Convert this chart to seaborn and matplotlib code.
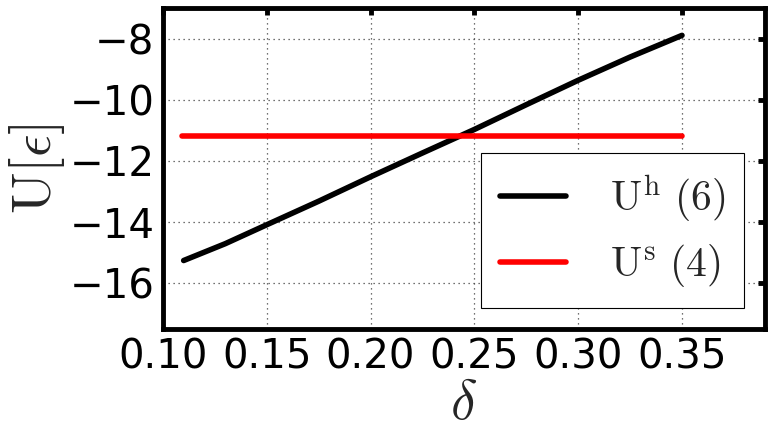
import numpy as np
import pandas as pd
import seaborn as sns
import matplotlib
matplotlib.use("Agg")
import matplotlib.pyplot as plt

# values
delta_h = [0.11, 0.13, 0.15, 0.175, 0.20, 0.225, 0.25, 0.275, 0.30, 0.325, 0.35]
u_h = [-15.26, -14.71, -14.09, -13.32, -12.52, -11.74, -10.97, -10.16, -9.36, -8.6, -7.89]
delta_s = [0.109, 0.35]
u_s = [-11.2, -11.2]
label_h = r"$\mathrm{U}^{\mathrm{h}}\ (6)$"
label_s = r"$\mathrm{U}^{\mathrm{s}}\ (4)$"

sns.set_style("white")
plt.rcParams["font.family"] = ["DejaVu Sans"]
plt.rcParams["mathtext.fontset"] = "cm"

fig = plt.figure(figsize=(7.72, 4.3), dpi=100)
ax = fig.add_axes([0.211, 0.235, 0.780, 0.746])

sns.lineplot(x=delta_h, y=u_h, color="black", lw=4, label=label_h, ax=ax)
sns.lineplot(x=delta_s, y=u_s, color="red", lw=4, label=label_s, ax=ax)

ax.set_xlim(0.10, 0.39)
ax.set_ylim(-17.5, -7.0)
ax.set_xticks([0.10, 0.15, 0.20, 0.25, 0.30, 0.35])
ax.set_yticks([-16, -14, -12, -10, -8])
ax.set_xticklabels(["0.10", "0.15", "0.20", "0.25", "0.30", "0.35"])
ax.set_yticklabels(["\u221216", "\u221214", "\u221212", "\u221210", "\u22128"])

ax.grid(True, linestyle=(0, (1, 3)), color="#444444", lw=0.9)
for s in ax.spines.values():
    s.set_linewidth(3.5)
    s.set_color("black")
ax.tick_params(direction="in", length=5, width=3.5, labelsize=29, colors="black",
               top=True, right=True, pad=6)

ax.set_xlabel(r"$\delta$", fontsize=40, labelpad=0)
ax.set_ylabel(r"$\mathrm{U}[\epsilon]$", fontsize=40, labelpad=2)

leg = ax.legend(loc="lower right", fontsize=30, handlelength=1.6, handletextpad=1.05,
                borderpad=0.45, fancybox=False, framealpha=1, edgecolor="black",
                labelspacing=0.45)
leg.get_frame().set_linewidth(0.8)

fig.savefig("out.png", dpi=100)
